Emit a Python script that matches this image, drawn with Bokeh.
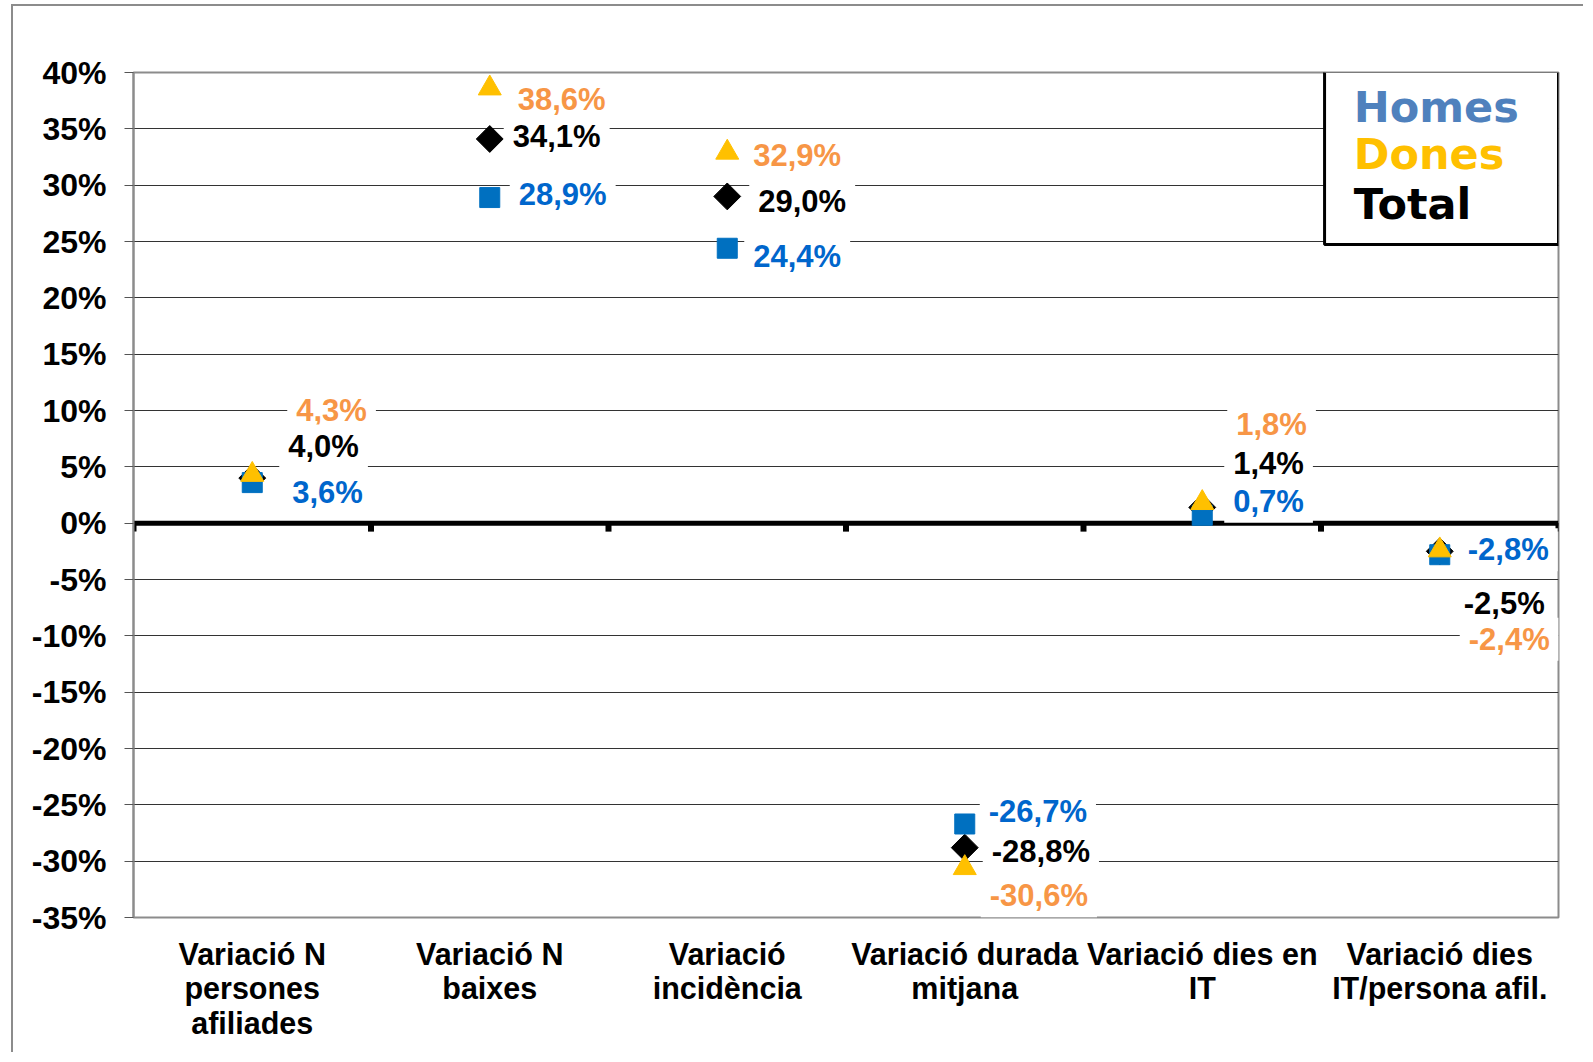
import math
from bokeh.plotting import figure
from bokeh.models import (Range1d, FixedTicker, ColumnDataSource, Label,
                          BoxAnnotation, Span)
from bokeh.core.properties import value
from bokeh.embed import file_html
from bokeh.resources import INLINE

# ---------------- data ----------------
categories = ["Variació N\npersones\nafiliades", "Variació N\nbaixes", "Variació\nincidència",
              "Variació durada\nmitjana", "Variació dies en\nIT", "Variació dies\nIT/persona afil."]
homes = [3.6, 28.9, 24.4, -26.7, 0.7, -2.8]
dones = [4.3, 38.6, 32.9, -30.6, 1.8, -2.4]
total = [4.0, 34.1, 29.0, -28.8, 1.4, -2.5]
y_ticks = [-35, -30, -25, -20, -15, -10, -5, 0, 5, 10, 15, 20, 25, 30, 35, 40]

# label placement (screen px offsets from each marker; dy positive = upwards)
homes_dx = [40, 29, 26, 24, 31, 28]
homes_dy = [-10, 3, -8, 12, 14, 5]
dones_dx = [44, 28, 26, 25, 34, 29]
dones_dy = [64, -11, -3, -28, 78, -89]
total_dx = [36, 23, 31, 27, 31, 24]
total_dy = [32, 2, -5, -4, 44, -52]
PAD_X, PAD_Y = 9, 4

FONT = "Liberation Sans"
BLUE_M = "#0070C0"
YEL_M = "#FFC000"
BLUE_T = "#0066CC"
ORG_T = "#F79646"

xc = [i + 0.5 for i in range(len(categories))]

p = figure(width=1572, height=1048, output_backend="svg", toolbar_location=None,
           x_range=Range1d(0, len(categories)), y_range=Range1d(y_ticks[0], y_ticks[-1]),
           min_border_left=120, min_border_right=27, min_border_top=66, min_border_bottom=137)
p.margin = (4, 0, 0, 11)
p.styles = {"border-left": "2px solid #8c8c8c", "border-top": "2px solid #8c8c8c"}
p.background_fill_color = "white"
p.border_fill_color = "white"
p.outline_line_color = "#8c8c8c"
p.outline_line_width = 2

# y axis
p.yaxis.ticker = FixedTicker(ticks=y_ticks)
p.yaxis.major_label_overrides = {t: f"{t}%" for t in y_ticks}
p.yaxis.major_label_text_font = FONT
p.yaxis.major_label_text_font_style = "bold"
p.yaxis.major_label_text_font_size = "32px"
p.yaxis.major_label_text_color = "black"
p.yaxis.major_label_standoff = 18
p.yaxis.axis_line_color = "#8c8c8c"
p.yaxis.axis_line_width = 2
p.yaxis.major_tick_in = 0
p.yaxis.major_tick_out = 9
p.yaxis.major_tick_line_color = "#555555"
p.yaxis.minor_tick_line_color = None

# x axis (category labels)
p.xaxis.ticker = FixedTicker(ticks=xc)
p.xaxis.major_label_overrides = {x: c for x, c in zip(xc, categories)}
p.xaxis.major_label_text_font = FONT
p.xaxis.major_label_text_font_style = "bold"
p.xaxis.major_label_text_font_size = "30.5px"
p.xaxis.major_label_text_color = "black"
p.xaxis.major_label_text_line_height = 1.02
p.xaxis.major_label_standoff = 13
p.xaxis.axis_line_color = None
p.xaxis.major_tick_line_color = None
p.xaxis.minor_tick_line_color = None

p.xgrid.grid_line_color = None
p.ygrid.ticker = FixedTicker(ticks=y_ticks)
p.ygrid.grid_line_color = "#333333"
p.ygrid.grid_line_width = 1

# zero (category) axis line with boundary ticks
p.add_layout(Span(location=0, dimension="width", line_color="black", line_width=5, level="underlay"))
bounds = list(range(len(categories) + 1))
p.segment(x0=bounds, y0=[0] * len(bounds), x1=bounds, y1=[-0.75] * len(bounds),
          line_color="black", line_width=6)

# markers
p.scatter(xc, total, marker="square", angle=math.pi / 4, size=19, fill_color="black", line_color="black")
p.scatter(xc, homes, marker="square", size=20, fill_color=BLUE_M, line_color=BLUE_M)
p.scatter(xc, dones, marker="triangle", size=23, fill_color=YEL_M, line_color=YEL_M)


def fmt(v):
    return f"{v:.1f}".replace(".", ",") + "%"


def add_labels(vals, dx, dy, color):
    src = ColumnDataSource(dict(x=xc, y=vals, t=[fmt(v) for v in vals],
                                dx=[d - PAD_X for d in dx], dy=[-d for d in dy]))
    p.text(x="x", y="y", text="t", x_offset="dx", y_offset="dy", source=src,
           text_font=value(FONT), text_font_style="bold", text_font_size="31px",
           text_color=color, text_align="left", text_baseline="middle",
           background_fill_color="white", background_fill_alpha=1.0,
           padding=(PAD_X, PAD_Y))


add_labels(homes, homes_dx, homes_dy, BLUE_T)
add_labels(dones, dones_dx, dones_dy, ORG_T)
add_labels(total, total_dx, total_dy, "black")

# legend box
p.add_layout(BoxAnnotation(left=5.015, right=6.0, top=40.1, bottom=24.74,
                           fill_color="white", fill_alpha=1.0,
                           line_color="black", line_width=3, line_alpha=1.0))
for txt, col, yy in [("Homes", "#4F81BD", 36.9), ("Dones", YEL_M, 32.8), ("Total", "black", 28.3)]:
    p.add_layout(Label(x=5.138, y=yy, text=txt, text_font="DejaVu Sans", text_font_style="bold",
                       text_font_size="43px", text_color=col, text_baseline="alphabetic",
                       text_align="left"))

open("out.html", "w").write(file_html(p, INLINE))
